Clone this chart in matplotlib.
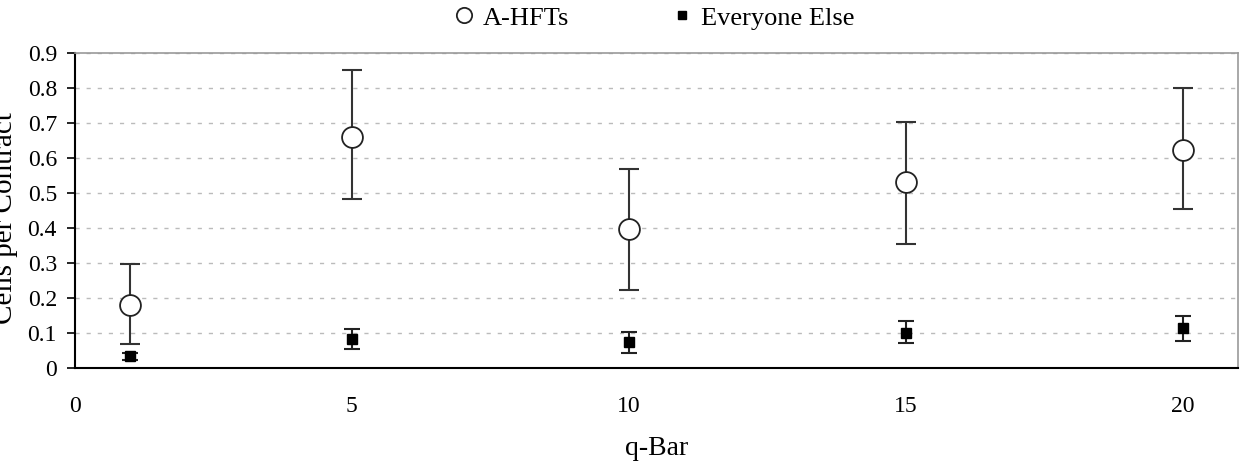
import matplotlib.pyplot as plt
from matplotlib.lines import Line2D

plt.rcParams['font.family'] = ['Liberation Serif', 'DejaVu Serif']

q_bar = [1, 5, 10, 15, 20]

hft_mean = [0.18, 0.66, 0.397, 0.532, 0.624]
hft_low = [0.069, 0.482, 0.222, 0.354, 0.454]
hft_high = [0.297, 0.851, 0.569, 0.704, 0.800]

else_mean = [0.034, 0.082, 0.074, 0.100, 0.114]
else_low = [0.024, 0.055, 0.043, 0.071, 0.078]
else_high = [0.044, 0.111, 0.104, 0.133, 0.149]

fontsize = 17

fig = plt.figure(figsize=(12.42, 4.68), dpi=100)
ax = fig.add_axes([0.0604, 0.2137, 0.9364, 0.6731])

hft_err = [[m - lo for m, lo in zip(hft_mean, hft_low)],
           [hi - m for m, hi in zip(hft_mean, hft_high)]]
else_err = [[m - lo for m, lo in zip(else_mean, else_low)],
            [hi - m for m, hi in zip(else_mean, else_high)]]

ax.errorbar(q_bar, hft_mean, yerr=hft_err, fmt='none', ecolor='#333333',
            elinewidth=1.5, capsize=7, capthick=1.5, zorder=3)
ax.plot(q_bar, hft_mean, 'o', markersize=15, markerfacecolor='white',
        markeredgecolor='#222222', markeredgewidth=1.3, zorder=4)

ax.errorbar(q_bar, else_mean, yerr=else_err, fmt='none', ecolor='#222222',
            elinewidth=1.5, capsize=6, capthick=1.5, zorder=3)
ax.plot(q_bar, else_mean, 's', markersize=7, color='black', zorder=4)

ax.set_xlim(0, 21)
ax.set_ylim(0, 0.9)
ax.set_xticks([0, 5, 10, 15, 20])
ax.set_yticks([0, 0.1, 0.2, 0.3, 0.4, 0.5, 0.6, 0.7, 0.8, 0.9])
ax.set_yticklabels(['0', '0.1', '0.2', '0.3', '0.4', '0.5', '0.6', '0.7', '0.8', '0.9'])

ax.yaxis.grid(True, linestyle=(0, (3, 5)), color='#bbbbbb', linewidth=1)
ax.set_axisbelow(True)

for side in ['top', 'right']:
    ax.spines[side].set_color('#999999')
    ax.spines[side].set_linewidth(1.2)
for side in ['left', 'bottom']:
    ax.spines[side].set_color('black')
    ax.spines[side].set_linewidth(1.5)

ax.tick_params(axis='x', length=0, pad=20, labelsize=fontsize)
ax.tick_params(axis='y', length=6, width=1.2, direction='out', pad=7,
               labelsize=fontsize)

ax.set_xlabel('q-Bar', fontsize=20, labelpad=14)
# y label runs off the left edge, as in the original figure
fig.text(0.0142, 0.535, 'Cells per Contract', rotation=90, fontsize=21,
         ha='right', va='center')

h1 = Line2D([], [], marker='o', linestyle='none', markersize=11,
            markerfacecolor='white', markeredgecolor='#222222', markeredgewidth=1.3)
h2 = Line2D([], [], marker='s', linestyle='none', markersize=5.5, color='black')
ax.legend([h1, h2], ['A-HFTs', 'Everyone Else'], loc='lower center',
          bbox_to_anchor=(0.4966, 1.032), ncol=2, frameon=False, fontsize=19,
          handlelength=1.0, handletextpad=0.2, columnspacing=3.8,
          borderaxespad=0.1)

fig.savefig('out.png', dpi=100)
